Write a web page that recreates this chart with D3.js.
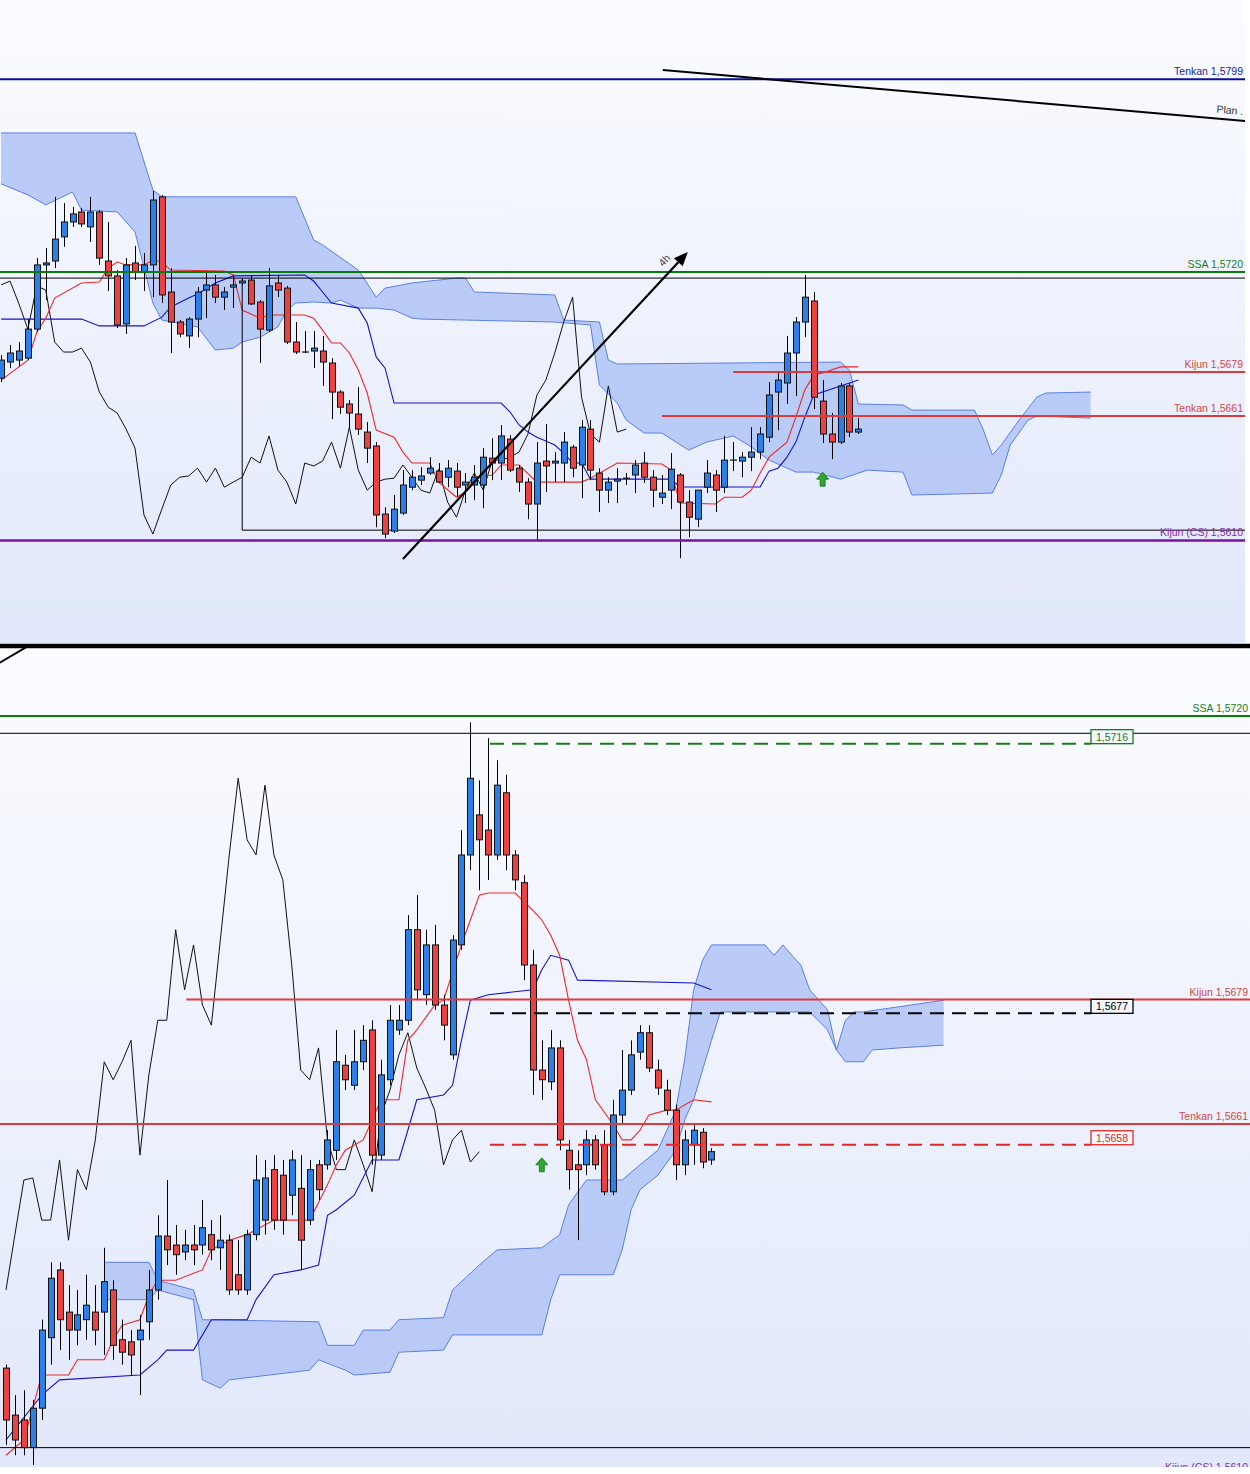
<!DOCTYPE html>
<html><head><meta charset="utf-8">
<script src="https://cdn.jsdelivr.net/npm/d3@7"></script>
<style>html,body{margin:0;padding:0;background:#fff}svg{display:block}</style>
</head><body>
<svg id="c" width="1250" height="1474"></svg>
<script>
// ================= TOP PANEL DATA (higher timeframe) =================
const topOpen = [
1.56765,1.56831,1.56839,1.56847,1.56966,1.57229,1.57245,1.57344,1.57405,1.57446,
1.57385,1.57446,1.57245,1.57184,1.56987,1.57237,1.57200,1.57229,1.57508,1.57118,
1.56995,1.56938,1.57007,1.57126,1.57147,1.57097,1.57138,1.57155,1.57167,1.57077,
1.56962,1.57155,1.57134,1.56913,1.56872,1.56876,1.56876,1.56827,1.56708,1.56659,
1.56618,1.56544,1.56487,1.56208,1.56138,1.56212,1.56318,1.56347,1.56376,1.56384,
1.56359,1.56384,1.56327,1.56327,1.56327,1.56437,1.56417,1.56515,1.56396,1.56339,
1.56249,1.56425,1.56417,1.56417,1.56482,1.56409,1.56556,1.56376,1.56306,1.56343,
1.56355,1.56368,1.56417,1.56359,1.56277,1.56306,1.56368,1.56257,1.56187,1.56318,
1.56368,1.56318,1.56429,1.56425,1.56441,1.56462,1.56523,1.56708,1.56745,1.56868,
1.56995,1.57081,1.56671,1.56536,1.56503,1.56733,1.56544];
const topHigh = [
1.56860,1.56901,1.56913,1.57007,1.57257,1.57298,1.57508,1.57483,1.57467,1.57462,
1.57508,1.57454,1.57405,1.57208,1.57257,1.57307,1.57278,1.57532,1.57516,1.57216,
1.57003,1.57015,1.57138,1.57196,1.57188,1.57138,1.57188,1.57171,1.57188,1.57085,
1.57216,1.57188,1.57143,1.56995,1.56958,1.56958,1.56938,1.56847,1.56716,1.56675,
1.56728,1.56585,1.56503,1.56236,1.56286,1.56388,1.56388,1.56400,1.56441,1.56417,
1.56429,1.56417,1.56376,1.56409,1.56478,1.56519,1.56573,1.56532,1.56409,1.56355,
1.56503,1.56577,1.56462,1.56544,1.56491,1.56593,1.56593,1.56396,1.56359,1.56396,
1.56376,1.56429,1.56462,1.56388,1.56368,1.56458,1.56376,1.56306,1.56306,1.56429,
1.56388,1.56528,1.56503,1.56462,1.56564,1.56564,1.56749,1.56786,1.56938,1.57015,
1.57188,1.57118,1.56757,1.56622,1.56745,1.56745,1.56601];
const topLow = [
1.56749,1.56806,1.56815,1.56839,1.56954,1.57085,1.57216,1.57303,1.57385,1.57385,
1.57323,1.57229,1.57122,1.56970,1.56946,1.57167,1.57122,1.57097,1.57073,1.56868,
1.56933,1.56888,1.56933,1.57011,1.57073,1.57044,1.57052,1.57147,1.57065,1.56827,
1.56954,1.57097,1.56905,1.56864,1.56868,1.56806,1.56733,1.56597,1.56618,1.56564,
1.56532,1.56417,1.56154,1.56109,1.56130,1.56204,1.56306,1.56327,1.56368,1.56335,
1.56318,1.56277,1.56253,1.56265,1.56232,1.56347,1.56347,1.56380,1.56298,1.56187,
1.56101,1.56298,1.56339,1.56339,1.56359,1.56273,1.56347,1.56216,1.56253,1.56253,
1.56327,1.56294,1.56335,1.56236,1.56249,1.56228,1.56027,1.56113,1.56154,1.56294,
1.56216,1.56294,1.56384,1.56359,1.56384,1.56433,1.56503,1.56552,1.56659,1.56692,
1.56933,1.56638,1.56499,1.56433,1.56495,1.56523,1.56536];
const topClose = [
1.56839,1.56868,1.56876,1.56966,1.57229,1.57237,1.57335,1.57405,1.57438,1.57397,
1.57446,1.57257,1.57184,1.56983,1.57229,1.57200,1.57229,1.57495,1.57106,1.56995,
1.56946,1.57007,1.57118,1.57147,1.57097,1.57118,1.57147,1.57163,1.57069,1.56966,
1.57143,1.57126,1.56913,1.56872,1.56872,1.56888,1.56831,1.56708,1.56646,1.56622,
1.56556,1.56478,1.56204,1.56126,1.56228,1.56327,1.56359,1.56364,1.56396,1.56339,
1.56396,1.56318,1.56339,1.56359,1.56441,1.56417,1.56528,1.56388,1.56339,1.56249,
1.56417,1.56405,1.56425,1.56503,1.56396,1.56564,1.56388,1.56306,1.56339,1.56351,
1.56355,1.56409,1.56359,1.56306,1.56294,1.56392,1.56257,1.56195,1.56306,1.56376,
1.56306,1.56429,1.56429,1.56441,1.56462,1.56536,1.56696,1.56757,1.56868,1.56995,
1.57097,1.56687,1.56536,1.56503,1.56733,1.56544,1.56556];
// Ichimoku lines, [bar index, price]
const topTenkan = [[0,1.56757],[3,1.56839],[4,1.56954],[5,1.57011],[6,1.57093],[9,1.57155],[11,1.57159],[12,1.57216],[13,1.57241],[14,1.57229],[16,1.57229],[17,1.57249],[18,1.57241],[19,1.57208],[25,1.57204],[26,1.57188],[27,1.57044],[29,1.57011],[30,1.57024],[34,1.57024],[35,1.57011],[36,1.56962],[37,1.56909],[38,1.56909],[39,1.56868],[40,1.56798],[41,1.56704],[42,1.56552],[44,1.56523],[45,1.56462],[46,1.56417],[48,1.56417],[49,1.56339],[51,1.56277],[52,1.56298],[53,1.56359],[55,1.56368],[56,1.56409],[58,1.56409],[60,1.56339],[65,1.56339],[66,1.56355],[69,1.56417],[74,1.56413],[75,1.56388],[76,1.56253],[80,1.56249],[81,1.56277],[83,1.56277],[84,1.56306],[85,1.56376],[86,1.56441],[88,1.56503],[89,1.56605],[90,1.56716],[91,1.56778],[92,1.56786],[94,1.56811],[96,1.56811]];
const topKijun = [[0,1.57007],[9,1.57007],[11,1.56979],[16,1.56979],[18,1.57015],[19,1.57057],[21,1.57093],[22,1.57110],[24,1.57155],[26,1.57184],[34,1.57188],[35,1.57163],[36,1.57118],[37,1.57073],[40,1.57052],[41,1.56991],[42,1.56852],[43,1.56806],[44,1.56663],[56,1.56663],[57,1.56626],[58,1.56573],[59,1.56544],[60,1.56523],[61,1.56507],[62,1.56491],[63,1.56458],[64,1.56417],[65,1.56417],[66,1.56351],[75,1.56351],[76,1.56319],[85,1.56319],[86,1.56384],[87,1.56396],[88,1.56441],[89,1.56503],[90,1.56605],[91,1.56696],[96,1.56757]];
const topSpanA = [[0,1.57770],[15,1.57770],[17,1.57536],[18,1.57508],[33,1.57508],[35,1.57331],[36,1.57311],[40,1.57208],[42,1.57097],[43,1.57134],[46,1.57155],[51,1.57175],[52,1.57175],[53,1.57118],[62,1.57106],[63,1.57003],[67,1.56995],[68,1.56839],[69,1.56823],[94,1.56831],[95,1.56798],[96,1.56659],[101,1.56655],[102,1.56634],[109,1.56634],[110,1.56552],[111,1.56450],[112,1.56491],[114,1.56593],[116,1.56688],[117,1.56704],[122,1.56708]];
const topSpanB = [[0,1.57561],[3,1.57516],[5,1.57475],[8,1.57528],[9,1.57454],[13,1.57446],[15,1.57364],[17,1.57073],[18,1.57003],[22,1.56975],[24,1.56880],[26,1.56888],[27,1.56913],[29,1.56933],[31,1.56975],[32,1.57044],[33,1.57073],[35,1.57077],[37,1.57073],[38,1.57085],[40,1.57052],[42,1.57052],[44,1.57044],[46,1.57011],[47,1.57007],[62,1.56995],[66,1.56983],[67,1.56737],[69,1.56663],[70,1.56593],[72,1.56540],[74,1.56540],[77,1.56470],[79,1.56503],[82,1.56528],[84,1.56483],[86,1.56429],[89,1.56380],[91,1.56380],[94,1.56351],[97,1.56388],[101,1.56380],[102,1.56286],[111,1.56294],[112,1.56368],[113,1.56491],[115,1.56593],[116,1.56610],[122,1.56601]];

// ================= BOTTOM PANEL DATA (lower timeframe) =================
const botOpen = [
1.56257,1.56189,1.56182,1.56142,1.56199,1.56301,1.56399,1.56338,1.56312,1.56327,
1.56338,1.56338,1.56370,1.56298,1.56295,1.56298,1.56324,1.56370,1.56448,1.56435,
1.56425,1.56435,1.56435,1.56450,1.56431,1.56442,1.56392,1.56370,1.56450,1.56471,
1.56544,1.56536,1.56507,1.56517,1.56471,1.56551,1.56551,1.56572,1.56695,1.56666,
1.56700,1.56746,1.56565,1.56674,1.56746,1.56760,1.56891,1.56797,1.56869,1.56782,
1.56710,1.56869,1.56999,1.57057,1.57035,1.56999,1.57089,1.56999,1.56959,1.56840,
1.56688,1.56671,1.56720,1.56572,1.56551,1.56551,1.56587,1.56580,1.56512,1.56623,
1.56659,1.56714,1.56742,1.56688,1.56659,1.56630,1.56551,1.56580,1.56598,1.56558];
const botHigh = [
1.56262,1.56218,1.56225,1.56211,1.56327,1.56410,1.56410,1.56377,1.56370,1.56392,
1.56377,1.56431,1.56384,1.56327,1.56312,1.56334,1.56399,1.56478,1.56529,1.56464,
1.56457,1.56464,1.56500,1.56471,1.56478,1.56450,1.56442,1.56457,1.56565,1.56558,
1.56565,1.56558,1.56572,1.56565,1.56558,1.56558,1.56601,1.56746,1.56710,1.56746,
1.56753,1.56760,1.56703,1.56782,1.56782,1.56912,1.56941,1.56891,1.56898,1.56797,
1.56883,1.57035,1.57191,1.57107,1.57168,1.57136,1.57115,1.57006,1.56970,1.56862,
1.56731,1.56746,1.56731,1.56587,1.56572,1.56601,1.56594,1.56601,1.56645,1.56717,
1.56731,1.56753,1.56753,1.56703,1.56674,1.56638,1.56601,1.56609,1.56604,1.56575];
const botLow = [
1.56146,1.56131,1.56131,1.56117,1.56182,1.56262,1.56283,1.56269,1.56290,1.56298,
1.56290,1.56276,1.56269,1.56262,1.56247,1.56218,1.56298,1.56356,1.56406,1.56392,
1.56413,1.56406,1.56421,1.56413,1.56399,1.56363,1.56363,1.56363,1.56442,1.56450,
1.56457,1.56450,1.56478,1.56399,1.56464,1.56500,1.56544,1.56558,1.56659,1.56659,
1.56688,1.56551,1.56558,1.56666,1.56739,1.56753,1.56789,1.56782,1.56775,1.56731,
1.56703,1.56862,1.56977,1.56948,1.56963,1.56992,1.56977,1.56948,1.56818,1.56652,
1.56645,1.56659,1.56572,1.56515,1.56442,1.56536,1.56544,1.56507,1.56507,1.56609,
1.56652,1.56703,1.56685,1.56652,1.56623,1.56529,1.56536,1.56551,1.56546,1.56551];
const botClose = [
1.56182,1.56153,1.56142,1.56199,1.56312,1.56387,1.56327,1.56312,1.56334,1.56348,
1.56312,1.56382,1.56290,1.56280,1.56276,1.56312,1.56370,1.56448,1.56428,1.56421,
1.56435,1.56428,1.56460,1.56428,1.56442,1.56370,1.56370,1.56450,1.56529,1.56532,
1.56471,1.56471,1.56558,1.56442,1.56544,1.56515,1.56587,1.56700,1.56674,1.56700,
1.56731,1.56565,1.56681,1.56760,1.56760,1.56891,1.56804,1.56869,1.56782,1.56753,
1.56876,1.56999,1.57110,1.57021,1.56999,1.57100,1.56999,1.56963,1.56840,1.56688,
1.56674,1.56720,1.56587,1.56544,1.56544,1.56587,1.56551,1.56512,1.56623,1.56659,
1.56710,1.56742,1.56691,1.56662,1.56630,1.56551,1.56587,1.56601,1.56555,1.56570];
const botTenkan = [[0,1.56131],[2,1.56153],[4,1.56247],[7,1.56247],[8,1.56269],[11,1.56269],[12,1.56298],[13,1.56319],[15,1.56327],[16,1.56363],[17,1.56384],[19,1.56384],[22,1.56399],[23,1.56428],[25,1.56442],[27,1.56450],[28,1.56457],[30,1.56471],[34,1.56471],[36,1.56522],[37,1.56551],[38,1.56572],[40,1.56587],[41,1.56616],[42,1.56645],[44,1.56645],[45,1.56731],[46,1.56746],[48,1.56782],[49,1.56789],[51,1.56869],[52,1.56905],[53,1.56941],[54,1.56944],[57,1.56944],[59,1.56919],[60,1.56905],[61,1.56883],[62,1.56854],[63,1.56789],[64,1.56731],[65,1.56703],[66,1.56645],[68,1.56609],[69,1.56587],[70,1.56587],[71,1.56601],[72,1.56623],[74,1.56630],[75,1.56630],[77,1.56645],[79,1.56642]];
const botKijun = [[0,1.56153],[4,1.56218],[6,1.56240],[15,1.56247],[17,1.56269],[18,1.56283],[21,1.56283],[23,1.56327],[27,1.56327],[28,1.56356],[30,1.56392],[33,1.56399],[35,1.56406],[36,1.56478],[37,1.56486],[39,1.56507],[41,1.56558],[44,1.56558],[45,1.56601],[46,1.56645],[49,1.56652],[50,1.56666],[51,1.56731],[52,1.56789],[54,1.56797],[59,1.56804],[60,1.56833],[61,1.56854],[63,1.56847],[64,1.56818],[77,1.56814],[79,1.56804]];
const botSpanA = [[11,1.56410],[16,1.56410],[17,1.56384],[21,1.56370],[22,1.56327],[35,1.56324],[36,1.56290],[39,1.56290],[40,1.56312],[43,1.56312],[44,1.56327],[49,1.56330],[50,1.56370],[53,1.56406],[55,1.56428],[60,1.56431],[62,1.56450],[63,1.56493],[65,1.56529],[69,1.56529],[71,1.56551],[73,1.56572],[75,1.56630],[76,1.56703],[77,1.56804],[78,1.56847],[79,1.56869],[85,1.56869],[86,1.56854],[87,1.56869],[88,1.56854],[89,1.56840],[90,1.56804],[92,1.56775],[93,1.56717],[94,1.56760],[95,1.56772],[96,1.56772],[105,1.56789]];
const botSpanB = [[11,1.56356],[16,1.56356],[17,1.56370],[21,1.56356],[22,1.56240],[24,1.56228],[25,1.56240],[34,1.56254],[35,1.56269],[38,1.56254],[39,1.56247],[43,1.56251],[44,1.56280],[49,1.56283],[50,1.56305],[60,1.56305],[61,1.56356],[62,1.56392],[68,1.56392],[69,1.56428],[70,1.56486],[71,1.56515],[73,1.56536],[75,1.56572],[76,1.56616],[77,1.56645],[78,1.56688],[79,1.56731],[80,1.56772],[90,1.56772],[92,1.56746],[93,1.56717],[94,1.56700],[96,1.56700],[97,1.56717],[100,1.56720],[105,1.56724]];

// ================= LEVELS / ANNOTATIONS =================
const topLevels = [
  {label:"Tenkan 1,5799", price:1.5799, color:"#0c0ca0", text:"#1a1aa8", w:2, from:null, dy:4},
  {label:"SSA 1,5720", price:1.5720, color:"#0b7a0b", text:"#208020", w:2, from:null, dy:4},
  {label:"Kijun 1,5679", price:1.5679, color:"#dd3b3b", text:"#d04848", w:2, from:82, dy:4},
  {label:"Tenkan 1,5661", price:1.5661, color:"#dd3b3b", text:"#d04848", w:2, from:74, dy:4},
  {label:"Kijun (CS) 1,5610", price:1.5610, color:"#7a12a8", text:"#8a2ab0", w:2.5, from:null, dy:4}
];
const botLevels = [
  {label:"SSA 1,5720", price:1.5720, color:"#0b7a0b", text:"#208020", w:2, from:null, dy:4},
  {label:"Kijun 1,5679", price:1.5679, color:"#dd3b3b", text:"#d04848", w:2, from:20.2, dy:4},
  {label:"Tenkan 1,5661", price:1.5661, color:"#dd3b3b", text:"#d04848", w:2, from:null, dy:4},
  {label:"Kijun (CS) 1,5610", price:1.5610, color:"#7a12a8", text:"#8a2ab0", w:2.5, from:null, dy:6}
];
const botTargets = [
  {label:"1,5716", price:1.5716, color:"#1e7a1e", from:54.2},
  {label:"1,5677", price:1.5677, color:"#000000", from:54.2},
  {label:"1,5658", price:1.5658, color:"#e02828", from:54.2}
];
const rangeHigh = 1.57175, rangeLow = 1.56142, rangeStart = 27;
const planLine = [[74.1,1.58028],[139.3,1.57819]];
const arrow4h = [[45.0,1.56024],[76.9,1.57282]];
const topSignal = [92, 1.56351];
const botSignal = [60, 1.56551];
const botStub = [[-0.7,1.57277],[2.7,1.57303]];

// ================= RENDER =================
const svg = d3.select('#c');
const defs = svg.append('defs');
const g1 = defs.append('linearGradient').attr('id','bg').attr('x1',0).attr('y1',0).attr('x2',0).attr('y2',1);
g1.append('stop').attr('offset','0%').attr('stop-color','#fbfcff');
g1.append('stop').attr('offset','100%').attr('stop-color','#e1e8fb');
defs.append('clipPath').attr('id','clipT').append('rect').attr('x',0).attr('y',0).attr('width',1245).attr('height',643);
defs.append('clipPath').attr('id','clipB').append('rect').attr('x',0).attr('y',649).attr('width',1250).attr('height',818);

svg.append('rect').attr('width',1250).attr('height',1474).attr('fill','#fff');
svg.append('rect').attr('x',0).attr('y',0).attr('width',1245).attr('height',643).attr('fill','url(#bg)');
svg.append('rect').attr('x',0).attr('y',649).attr('width',1250).attr('height',818).attr('fill','url(#bg)');

const xT = d3.scaleLinear().domain([0,100]).range([1.1, 894.1]);
const yT = d3.scaleLinear().domain([1.5720,1.5610]).range([272,540.4]);
const xB = d3.scaleLinear().domain([0,100]).range([6, 899]);
const yB = d3.scaleLinear().domain([1.5720,1.5661]).range([716,1124]);

const FONT = '"Liberation Sans", Arial, sans-serif';

function drawPanel(g, x, y, O, H, L, C, tenkan, kijun, spanA, spanB) {
  const ln = d3.line().x(d=>x(d[0])).y(d=>y(d[1]));
  const pts = spanA.map(d=>[x(d[0]),y(d[1])]).concat(spanB.slice().reverse().map(d=>[x(d[0]),y(d[1])]));
  g.append('path').attr('d','M'+pts.map(p=>p.join(',')).join('L')+'Z')
    .attr('fill','#b6c8f7').attr('fill-opacity',0.95).attr('stroke','none');
  g.append('path').attr('d',ln(spanA)).attr('fill','none').attr('stroke','#5c80e2').attr('stroke-width',1);
  g.append('path').attr('d',ln(spanB)).attr('fill','none').attr('stroke','#5c80e2').attr('stroke-width',1);
  const chik = C.slice(26).map((c,k)=>[k,c]);
  g.append('path').attr('d',ln(chik)).attr('fill','none').attr('stroke','#111').attr('stroke-width',1);
  g.append('path').attr('d',ln(kijun)).attr('fill','none').attr('stroke','#1414c8').attr('stroke-width',1.1);
  g.append('path').attr('d',ln(tenkan)).attr('fill','none').attr('stroke','#ee2a2a').attr('stroke-width',1.1);
}
function drawCandles(g, x, y, O, H, L, C) {
  const idx = d3.range(O.length);
  const cx = i => Math.round(x(i)) + 0.5;
  g.selectAll(null).data(idx).join('line')
    .attr('x1',cx).attr('x2',cx).attr('y1',i=>y(H[i])).attr('y2',i=>y(L[i]))
    .attr('stroke','#000').attr('stroke-width',1);
  g.selectAll(null).data(idx.filter(i=>O[i]!==C[i])).join('rect')
    .attr('x',i=>cx(i)-3).attr('width',6)
    .attr('y',i=>Math.min(y(O[i]),y(C[i])))
    .attr('height',i=>Math.max(1,Math.abs(y(O[i])-y(C[i]))))
    .attr('fill',i=>C[i]>O[i]?'#2a7fea':'#ea4141')
    .attr('stroke','#111').attr('stroke-width',1);
  g.selectAll(null).data(idx.filter(i=>O[i]===C[i])).join('line')
    .attr('x1',i=>cx(i)-3.5).attr('x2',i=>cx(i)+3.5).attr('y1',i=>y(O[i])).attr('y2',i=>y(O[i]))
    .attr('stroke','#111').attr('stroke-width',1.2);
}
function upArrow(g, px, py) {
  const p = [[0,-7],[6,0],[2.5,0],[2.5,7],[-2.5,7],[-2.5,0],[-6,0]];
  g.append('path').attr('d','M'+p.map(q=>(px+q[0])+','+(py+q[1])).join('L')+'Z')
    .attr('fill','#2ea82e').attr('stroke','#1c6e1c').attr('stroke-width',0.8);
}

// ---------- top panel ----------
const gT = svg.append('g').attr('clip-path','url(#clipT)');
drawPanel(gT, xT, yT, topOpen, topHigh, topLow, topClose, topTenkan, topKijun, topSpanA, topSpanB);
gT.append('line').attr('x1',0).attr('x2',1245).attr('y1',yT(rangeHigh)).attr('y2',yT(rangeHigh)).attr('stroke','#000').attr('stroke-width',1);
gT.append('line').attr('x1',xT(rangeStart)).attr('x2',1245).attr('y1',yT(rangeLow)).attr('y2',yT(rangeLow)).attr('stroke','#000').attr('stroke-width',1);
gT.append('line').attr('x1',xT(rangeStart)).attr('x2',xT(rangeStart)).attr('y1',yT(rangeHigh)).attr('y2',yT(rangeLow)).attr('stroke','#000').attr('stroke-width',1);
drawCandles(gT, xT, yT, topOpen, topHigh, topLow, topClose);
topLevels.forEach(l=>{
  const yy = yT(l.price);
  gT.append('line').attr('x1',l.from===null?0:xT(l.from)).attr('x2',1245).attr('y1',yy).attr('y2',yy)
    .attr('stroke',l.color).attr('stroke-width',l.w);
  gT.append('text').attr('x',1243).attr('y',yy-l.dy).attr('text-anchor','end')
    .attr('font-family',FONT).attr('font-size',10.5).attr('fill',l.text).text(l.label);
});
gT.append('line').attr('x1',xT(planLine[0][0])).attr('y1',yT(planLine[0][1]))
  .attr('x2',xT(planLine[1][0])).attr('y2',yT(planLine[1][1])).attr('stroke','#000').attr('stroke-width',2);
{
  const ang = Math.atan2(yT(planLine[1][1])-yT(planLine[0][1]), xT(planLine[1][0])-xT(planLine[0][0]))*180/Math.PI;
  gT.append('text').attr('transform',`translate(1243,${yT(planLine[1][1])-6}) rotate(${ang})`).attr('text-anchor','end')
    .attr('font-family',FONT).attr('font-size',10.5).attr('fill','#333').text('Plan .');
}
{
  const x1=xT(arrow4h[0][0]), y1=yT(arrow4h[0][1]), x2=xT(arrow4h[1][0]), y2=yT(arrow4h[1][1]);
  const a = Math.atan2(y2-y1,x2-x1);
  const bx = x2-14*Math.cos(a), by = y2-14*Math.sin(a);
  gT.append('line').attr('x1',x1).attr('y1',y1).attr('x2',bx).attr('y2',by).attr('stroke','#000').attr('stroke-width',2.2);
  const px = -Math.sin(a), py = Math.cos(a);
  gT.append('path').attr('d',`M${x2},${y2}L${bx+6*px},${by+6*py}L${bx-6*px},${by-6*py}Z`).attr('fill','#000');
  const mx = x2-22*Math.cos(a)-8*px, my = y2-22*Math.sin(a)-8*py;
  gT.append('text').attr('transform',`translate(${mx},${my}) rotate(${a*180/Math.PI})`).attr('text-anchor','middle')
    .attr('font-family',FONT).attr('font-size',10.5).attr('fill','#444').text('4h');
}
upArrow(gT, xT(topSignal[0]), yT(topSignal[1]));

svg.append('line').attr('x1',0).attr('x2',1250).attr('y1',646).attr('y2',646).attr('stroke','#000').attr('stroke-width',4.5);

// ---------- bottom panel ----------
const gB = svg.append('g').attr('clip-path','url(#clipB)');
drawPanel(gB, xB, yB, botOpen, botHigh, botLow, botClose, botTenkan, botKijun, botSpanA, botSpanB);
gB.append('line').attr('x1',0).attr('x2',1250).attr('y1',yB(rangeHigh)).attr('y2',yB(rangeHigh)).attr('stroke','#000').attr('stroke-width',1);
gB.append('line').attr('x1',0).attr('x2',1250).attr('y1',yB(rangeLow)).attr('y2',yB(rangeLow)).attr('stroke','#000').attr('stroke-width',1);
drawCandles(gB, xB, yB, botOpen, botHigh, botLow, botClose);
botLevels.forEach(l=>{
  const yy = yB(l.price);
  gB.append('line').attr('x1',l.from===null?0:xB(l.from)).attr('x2',1250).attr('y1',yy).attr('y2',yy)
    .attr('stroke',l.color).attr('stroke-width',l.w);
  gB.append('text').attr('x',1248).attr('y',yy-l.dy).attr('text-anchor','end')
    .attr('font-family',FONT).attr('font-size',10.5).attr('fill',l.text).text(l.label);
});
botTargets.forEach(t=>{
  const yy = yB(t.price);
  const xEnd = 1091;
  gB.append('line').attr('x1',xB(t.from)).attr('x2',xEnd).attr('y1',yy).attr('y2',yy)
    .attr('stroke',t.color).attr('stroke-width',2).attr('stroke-dasharray','14,8');
  gB.append('rect').attr('x',xEnd).attr('y',yy-14).attr('width',42).attr('height',14)
    .attr('fill','#f4f6fe').attr('stroke',t.color).attr('stroke-width',1.3);
  gB.append('text').attr('x',xEnd+21).attr('y',yy-3).attr('text-anchor','middle')
    .attr('font-family',FONT).attr('font-size',10.5).attr('fill',t.color).text(t.label);
});
upArrow(gB, xB(botSignal[0]), yB(botSignal[1]));
svg.append('line').attr('x1',xB(botStub[0][0])).attr('y1',yB(botStub[0][1])).attr('x2',xB(botStub[1][0])).attr('y2',yB(botStub[1][1]))
  .attr('stroke','#000').attr('stroke-width',2);
</script>
</body></html>
